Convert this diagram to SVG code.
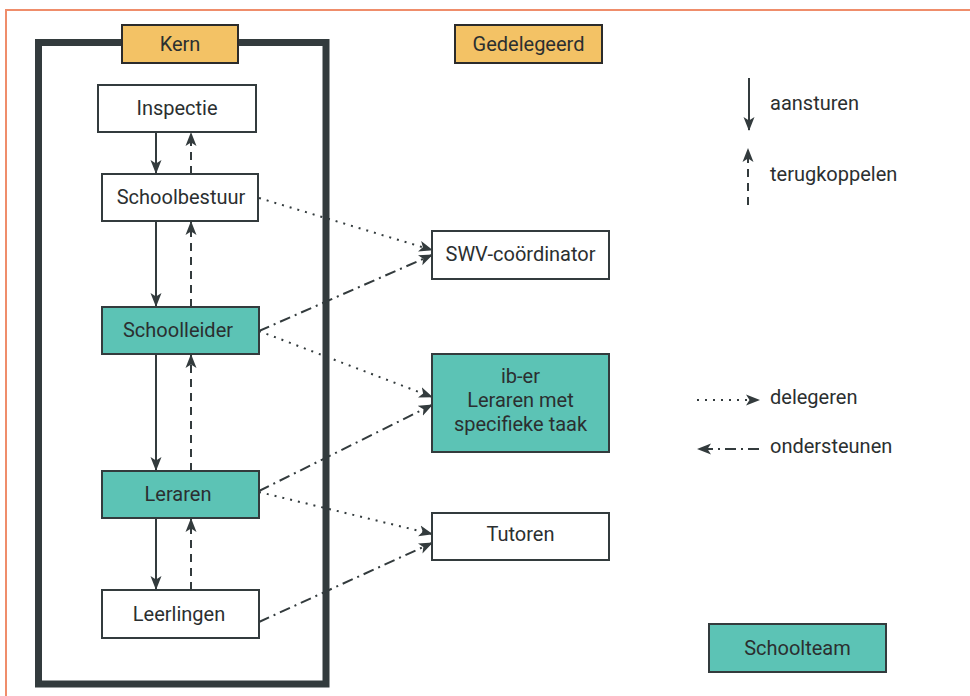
<svg xmlns="http://www.w3.org/2000/svg" width="970" height="696" viewBox="0 0 970 696">
<style>
  .box{stroke:#333b3d;stroke-width:2}
  .white{fill:#ffffff}
  .teal{fill:#5cc3b5}
  .yellow{fill:#f3c265;stroke:#2b2b2b;stroke-width:2}
  .t{font-family:Roboto,"Liberation Sans",sans-serif;font-size:20px;fill:#2b2f30;text-anchor:middle}
  .tl{font-family:Roboto,"Liberation Sans",sans-serif;font-size:20px;fill:#2b2f30}
  .ln{fill:none;stroke:#333b3d;stroke-width:2}
  .solid{marker-end:url(#ah)}
  .dash{stroke-dasharray:8 6;marker-end:url(#ah)}
  .dot{stroke-dasharray:2 6;marker-end:url(#ah)}
  .dd{stroke-dasharray:11 5 2 5;marker-end:url(#ah)}
</style>
<defs>
  <marker id="ah" markerUnits="userSpaceOnUse" markerWidth="14" markerHeight="12" viewBox="0 0 14 12" refX="13" refY="6" orient="auto">
    <path d="M0,0.5 L14,6 L0,11.5 L3.5,6 Z" fill="#333b3d"/>
  </marker>
</defs>
<rect width="970" height="696" fill="#ffffff"/>
<rect x="6" y="10" width="1000" height="720" fill="none" stroke="#ef8d6b" stroke-width="2"/>

<g id="kern-frame">
  <rect x="38.5" y="42.5" width="287.5" height="641.5" fill="none" stroke="#333b3d" stroke-width="7"/>
</g>
<g id="kern-label">
  <rect x="122" y="25" width="116" height="38" class="yellow"/>
  <text x="180" y="51" class="t">Kern</text>
</g>
<g id="gedelegeerd-label">
  <rect x="455" y="25" width="147" height="38" class="yellow"/>
  <text x="528.5" y="51" class="t">Gedelegeerd</text>
</g>

<g id="connectors">
  <line x1="156" y1="132" x2="156" y2="173" class="ln solid"/>
  <line x1="191" y1="174" x2="191" y2="133" class="ln dash"/>
  <line x1="156" y1="221" x2="156" y2="306" class="ln solid"/>
  <line x1="191" y1="307" x2="191" y2="222" class="ln dash"/>
  <line x1="156" y1="354" x2="156" y2="470" class="ln solid"/>
  <line x1="191" y1="471" x2="191" y2="355" class="ln dash"/>
  <line x1="156" y1="518" x2="156" y2="589" class="ln solid"/>
  <line x1="191" y1="590" x2="191" y2="519" class="ln dash"/>

  <line x1="259" y1="198" x2="432" y2="250" class="ln dot"/>
  <line x1="259" y1="331" x2="432" y2="255" class="ln dd"/>
  <line x1="259" y1="331" x2="432" y2="397" class="ln dot"/>
  <line x1="259" y1="491" x2="432" y2="405" class="ln dd"/>
  <line x1="259" y1="492" x2="432" y2="534" class="ln dot"/>
  <line x1="259" y1="622" x2="432" y2="543" class="ln dd"/>
</g>

<g id="inspectie">
  <rect x="98" y="85" width="158" height="47" class="box white"/>
  <text x="177" y="115" class="t">Inspectie</text>
</g>
<g id="schoolbestuur">
  <rect x="102" y="174" width="156" height="47" class="box white"/>
  <text x="181" y="204" class="t">Schoolbestuur</text>
</g>
<g id="schoolleider">
  <rect x="102" y="307" width="157" height="47" class="box teal"/>
  <text x="178" y="337" class="t">Schoolleider</text>
</g>
<g id="leraren">
  <rect x="102" y="471" width="157" height="47" class="box teal"/>
  <text x="178" y="501" class="t">Leraren</text>
</g>
<g id="leerlingen">
  <rect x="102" y="590" width="157" height="48" class="box white"/>
  <text x="179" y="621" class="t">Leerlingen</text>
</g>
<g id="swv-coordinator">
  <rect x="432" y="231" width="177" height="48" class="box white"/>
  <text x="520.5" y="261" class="t">SWV-coördinator</text>
</g>
<g id="ib-er">
  <rect x="432" y="354" width="177" height="98" class="box teal"/>
  <text x="520.5" y="383" class="t">ib-er</text>
  <text x="520.5" y="407" class="t">Leraren met</text>
  <text x="520.5" y="431" class="t">specifieke taak</text>
</g>
<g id="tutoren">
  <rect x="432" y="513" width="177" height="47" class="box white"/>
  <text x="520.5" y="541" class="t">Tutoren</text>
</g>

<g id="legend">
  <line x1="749" y1="78" x2="749" y2="130" class="ln solid"/>
  <text x="770" y="110" class="tl">aansturen</text>
  <line x1="748" y1="205" x2="748" y2="149" class="ln dash"/>
  <text x="770" y="181" class="tl">terugkoppelen</text>
  <line x1="697" y1="400" x2="759" y2="400" class="ln dot"/>
  <text x="770" y="404" class="tl">delegeren</text>
  <line x1="759" y1="449" x2="698" y2="449" class="ln dd"/>
  <text x="770" y="453" class="tl">ondersteunen</text>
</g>
<g id="schoolteam">
  <rect x="709" y="624" width="177" height="48" class="box teal"/>
  <text x="797.5" y="655" class="t">Schoolteam</text>
</g>
</svg>
